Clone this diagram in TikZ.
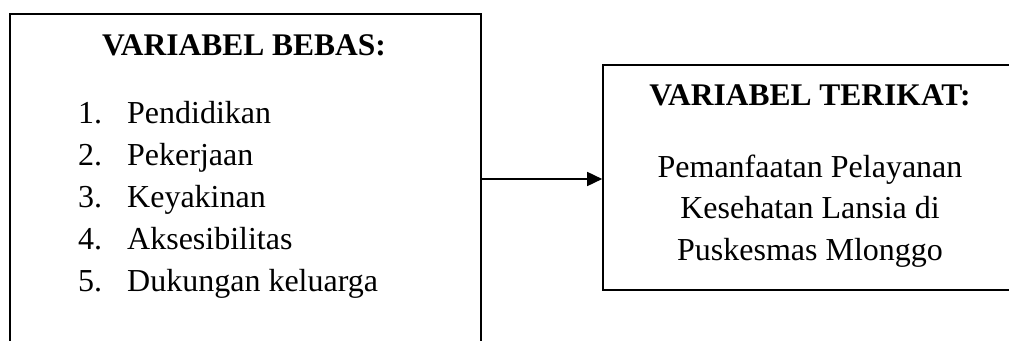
\documentclass[tikz,border=0pt]{standalone}
\usepackage{fontspec}
\setmainfont{Liberation Serif}
\usetikzlibrary{arrows.meta}
\tikzset{
  frame/.style={draw=black, line width=1.6pt, rectangle, inner sep=0pt},
  head/.style={font=\fontsize{31.5}{36}\selectfont\bfseries, inner sep=0pt, anchor=base},
  txt/.style={font=\fontsize{32}{42}\selectfont, inner sep=0pt},
  link/.style={line width=1.6pt, -{Triangle[length=15pt,width=14pt]}}
}
\begin{document}
\begin{tikzpicture}[x=1pt,y=-1pt]
  \useasboundingbox (0,0) rectangle (1009,340);
  \clip (0,0) rectangle (1009,340);
  % frames (both run past the page edge)
  \node[frame, minimum width=471pt, minimum height=400pt] (bebas) at (245.5,214) {};
  \node[frame, minimum width=480pt, minimum height=225pt] (terikat) at (843,177.5) {};
  % independent variables
  \node[head] (hb) at (244,55) {VARIABEL BEBAS:};
  \node[txt, anchor=base west] (n1) at (78,123) {1.};
  \node[txt, anchor=base west] (t1) at (127,123) {Pendidikan};
  \node[txt, anchor=base west] (n2) at (78,165) {2.};
  \node[txt, anchor=base west] (t2) at (127,165) {Pekerjaan};
  \node[txt, anchor=base west] (n3) at (78,207) {3.};
  \node[txt, anchor=base west] (t3) at (127,207) {Keyakinan};
  \node[txt, anchor=base west] (n4) at (78,249) {4.};
  \node[txt, anchor=base west] (t4) at (127,249) {Aksesibilitas};
  \node[txt, anchor=base west] (n5) at (78,291) {5.};
  \node[txt, anchor=base west] (t5) at (127,291) {Dukungan keluarga};
  % dependent variable
  \node[head] (ht) at (810,105) {VARIABEL TERIKAT:};
  \node[txt, anchor=base] (r1) at (810,177) {Pemanfaatan Pelayanan};
  \node[txt, anchor=base] (r2) at (810,218.5) {Kesehatan Lansia di};
  \node[txt, anchor=base] (r3) at (810,260) {Puskesmas Mlonggo};
  % connector
  \draw[link] (bebas.east |- 0,179) -- (terikat.west |- 0,179);
\end{tikzpicture}
\end{document}
